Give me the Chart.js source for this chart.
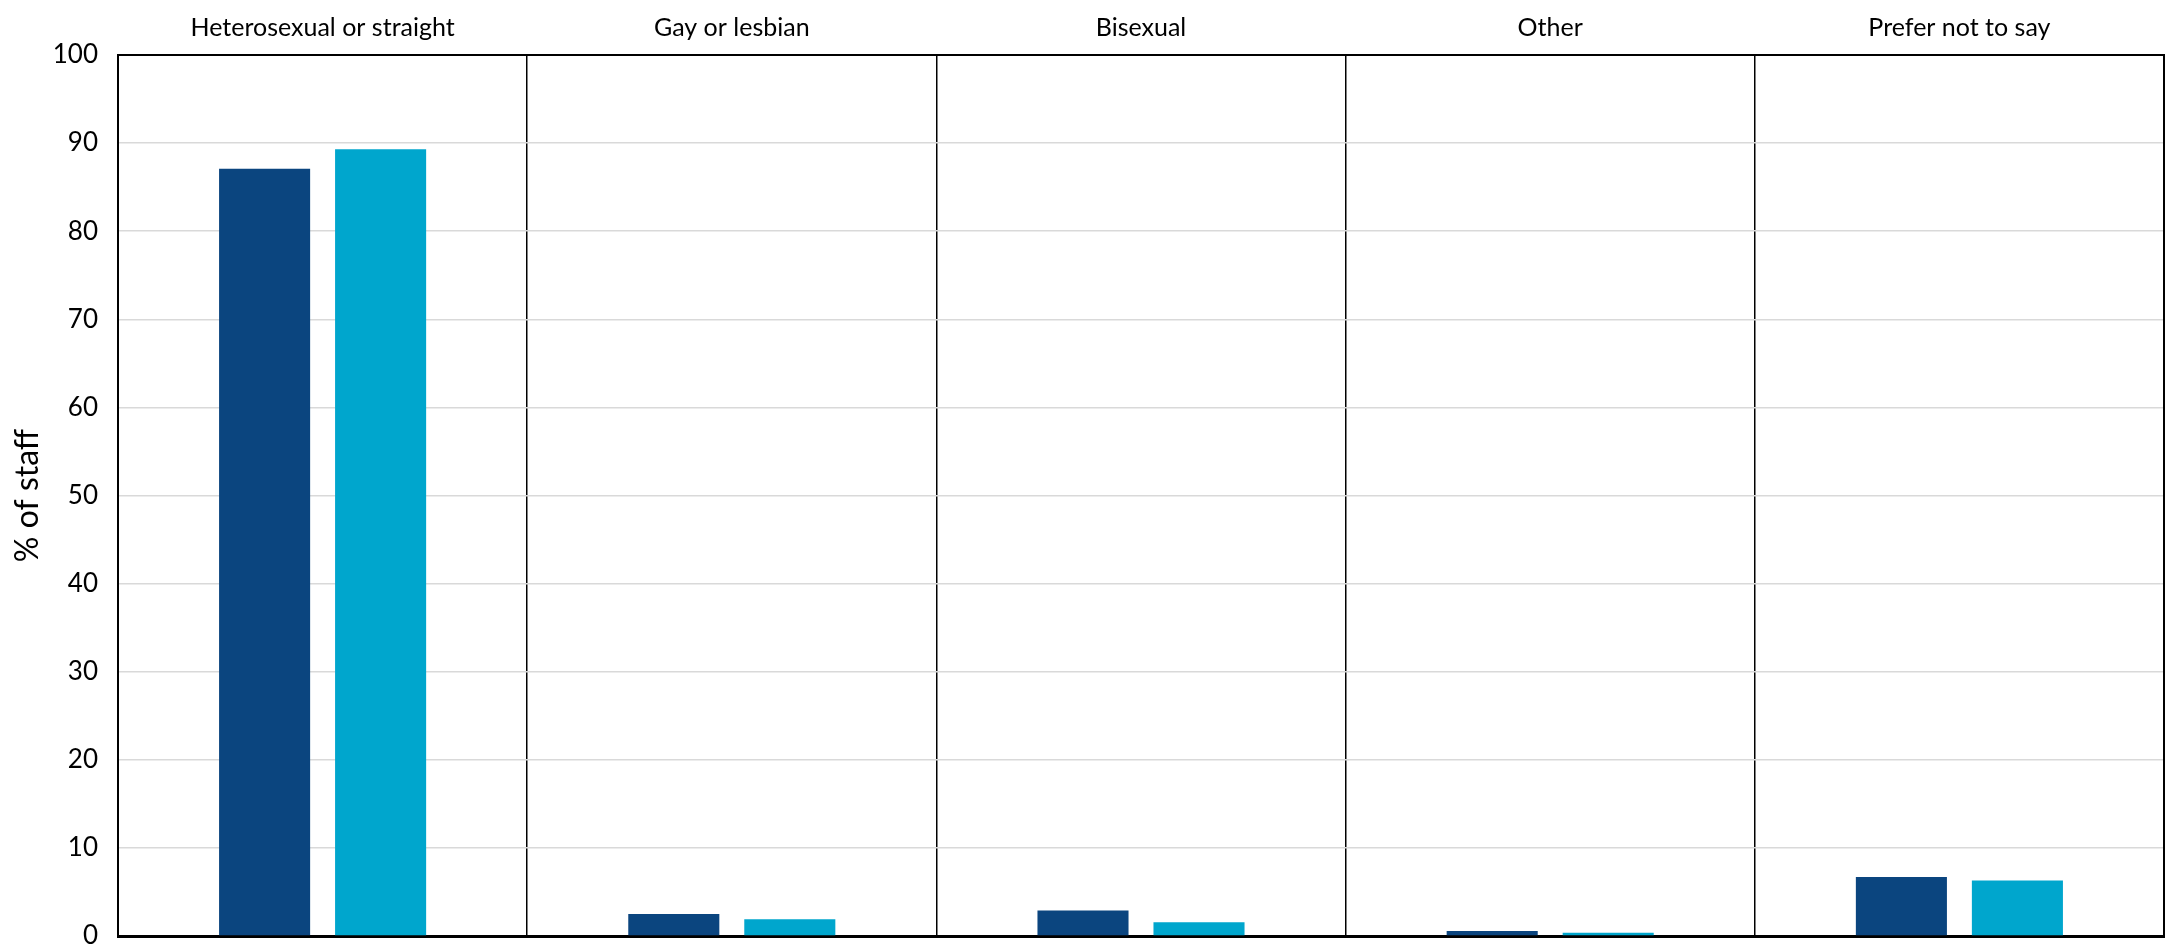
<!DOCTYPE html>
<html>
<head>
<meta charset="utf-8">
<script src="https://cdn.jsdelivr.net/npm/chart.js@4/dist/chart.umd.min.js"></script>
<style>
  html, body { margin: 0; padding: 0; background: #fff; }
  #wrap { width: 2172px; height: 947px; position: relative; }
</style>
</head>
<body>
<div id="wrap"><canvas id="staffChart"></canvas></div>
<script>
const categories = ['Heterosexual or straight', 'Gay or lesbian', 'Bisexual', 'Other', 'Prefer not to say'];
const seriesA = [87.1, 2.5, 2.9, 0.57, 6.7];
const seriesB = [89.3, 1.9, 1.55, 0.38, 6.3];
const yTicks = [0, 10, 20, 30, 40, 50, 60, 70, 80, 90, 100];

const darkBlue = '#0b457f';
const lightBlue = '#00a6cd';
const fontFamily = 'Lato, "Open Sans", sans-serif';

const ctx = document.getElementById('staffChart').getContext('2d');

var staffChart = new Chart(ctx, {
  type: 'bar',
  data: {
    labels: categories,
    datasets: [{
      label: 'Series 1',
      data: seriesA,
      backgroundColor: darkBlue,
      categoryPercentage: 0.567,
      barPercentage: 0.785
    }, {
      label: 'Series 2',
      data: seriesB,
      backgroundColor: lightBlue,
      categoryPercentage: 0.567,
      barPercentage: 0.785
    }]
  },
  options: {
    responsive: true,
    maintainAspectRatio: false,
    animation: false,
    layout: {
      padding: { top: 1, right: 8, bottom: 11, left: 8 }
    },
    plugins: {
      legend: { display: false },
      tooltip: { enabled: false }
    },
    scales: {
      x: {
        position: 'top',
        grid: {
          offset: true,
          color: '#000',
          lineWidth: 1.5,
          drawTicks: false
        },
        border: { display: true, color: '#000', width: 2 },
        ticks: {
          color: '#000',
          padding: 12,
          font: { family: fontFamily, size: 25 }
        }
      },
      x2: {
        position: 'bottom',
        grid: { display: false, drawTicks: false },
        border: { display: true, color: '#000', width: 3 },
        ticks: { display: false },
        afterFit: (axis) => { axis.height = 0; }
      },
      y: {
        min: 0,
        max: 100,
        afterBuildTicks: (axis) => {
          axis.ticks = yTicks.map(v => ({ value: v }));
        },
        afterFit: (axis) => {
          axis.width = 110;
          axis.paddingBottom = 0;
          axis.paddingTop = 0;
        },
        grid: {
          color: '#d9d9d9',
          lineWidth: 1.5,
          drawTicks: false
        },
        border: { display: true, color: '#000', width: 2 },
        ticks: {
          color: '#000',
          padding: 20,
          font: { family: fontFamily, size: 26 }
        },
        title: {
          display: true,
          text: '% of staff',
          color: '#000',
          padding: { top: 0, bottom: 0 },
          font: { family: fontFamily, size: 32 }
        }
      },
      y2: {
        position: 'right',
        min: 0,
        max: 100,
        grid: { display: false, drawTicks: false },
        border: { display: true, color: '#000', width: 2 },
        ticks: { display: false },
        afterFit: (axis) => { axis.width = 0; }
      }
    }
  }
});
</script>
</body>
</html>
